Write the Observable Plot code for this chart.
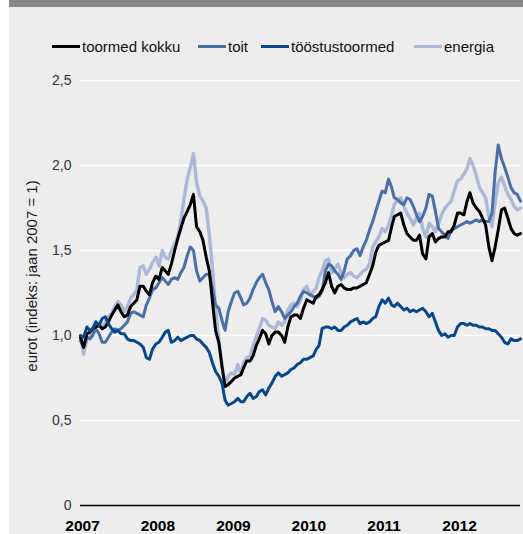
<!DOCTYPE html>
<html><head><meta charset="utf-8">
<script src="https://cdn.jsdelivr.net/npm/d3@7"></script>
<script src="https://cdn.jsdelivr.net/npm/@observablehq/plot@0.6"></script>
<style>
html,body{margin:0;padding:0;background:#fff;}
#wrap{position:relative;width:523px;height:534px;overflow:hidden;font-family:"Liberation Sans",Arial,sans-serif;}
#bg{position:absolute;left:9px;top:0;width:514px;height:534px;background:#ecedec;}
#bar{position:absolute;left:9px;top:0;width:514px;height:7px;background:#878889;}
.item{position:absolute;top:36px;display:flex;align-items:center;height:20px;font-size:15px;color:#111;white-space:nowrap;}
.sw{display:inline-block;width:28px;height:3px;margin-right:2px;}
#chart{position:absolute;left:0;top:60px;}
</style></head>
<body>
<div id="wrap"><div id="bg"></div><div id="bar"></div><div id="legend"></div><div id="chart"></div></div>
<script>
// Series names and colours (legend order)
const seriesNames = ["toormed kokku", "toit", "tööstustoormed", "energia"];
const seriesColors = ["#000000", "#4a6ea8", "#08478a", "#abb8d7"];
const yTicks = [0, 0.5, 1, 1.5, 2, 2.5];
const yearTicks = [2007, 2008, 2009, 2010, 2011, 2012];
const yTitle = "eurot (indeks: jaan 2007 = 1)";

// half-monthly observations, Jan 2007 .. Nov 2012
const kokku = [
0.99,0.93,1.01,1.02,1.04,1.05,1.06,1.04,1.05,1.08,
1.12,1.15,1.18,1.14,1.11,1.12,1.17,1.19,1.21,1.29,
1.29,1.26,1.24,1.31,1.35,1.33,1.40,1.38,1.36,1.42,
1.50,1.57,1.63,1.69,1.73,1.77,1.83,1.64,1.61,1.56,
1.46,1.38,1.20,1.03,0.96,0.82,0.70,0.71,0.73,0.75,
0.76,0.77,0.81,0.85,0.85,0.88,0.94,0.98,1.03,1.01,
0.95,1.00,1.02,1.02,1.00,0.96,1.05,1.11,1.12,1.12,
1.10,1.16,1.21,1.20,1.19,1.23,1.24,1.27,1.31,1.37,
1.29,1.25,1.29,1.30,1.28,1.27,1.27,1.28,1.28,1.29,
1.30,1.31,1.36,1.41,1.49,1.53,1.54,1.55,1.56,1.64,
1.70,1.71,1.72,1.65,1.60,1.58,1.56,1.56,1.59,1.48,
1.45,1.58,1.60,1.55,1.57,1.58,1.58,1.61,1.61,1.65,
1.72,1.72,1.71,1.79,1.84,1.78,1.75,1.73,1.69,1.65,
1.52,1.44,1.52,1.62,1.74,1.75,1.69,1.63,1.60,1.59,
1.60];
const toit = [
0.97,0.93,0.99,0.98,1.00,1.04,1.01,0.96,0.96,0.99,
1.02,1.04,1.03,1.04,1.06,1.08,1.13,1.14,1.13,1.12,
1.11,1.18,1.22,1.27,1.28,1.31,1.34,1.32,1.30,1.33,
1.34,1.33,1.37,1.40,1.47,1.52,1.50,1.38,1.32,1.34,
1.36,1.36,1.28,1.18,1.16,1.09,1.03,1.14,1.20,1.25,
1.26,1.22,1.18,1.19,1.22,1.27,1.31,1.34,1.36,1.31,
1.27,1.20,1.14,1.17,1.14,1.10,1.12,1.14,1.17,1.19,
1.23,1.26,1.25,1.24,1.23,1.22,1.23,1.26,1.38,1.42,
1.41,1.38,1.36,1.33,1.38,1.45,1.47,1.50,1.51,1.47,
1.52,1.56,1.62,1.67,1.73,1.79,1.85,1.84,1.92,1.87,
1.81,1.80,1.78,1.77,1.81,1.80,1.76,1.71,1.67,1.70,
1.75,1.83,1.82,1.73,1.63,1.61,1.59,1.57,1.62,1.63,
1.64,1.65,1.66,1.67,1.66,1.67,1.68,1.67,1.68,1.67,
1.67,1.72,1.96,2.12,2.04,1.99,1.93,1.87,1.84,1.83,
1.79];
const toostus = [
1.00,0.99,1.05,1.03,1.04,1.08,1.06,1.10,1.11,1.07,
1.04,1.02,1.03,1.01,1.01,0.98,0.97,0.97,0.96,0.95,
0.93,0.87,0.86,0.92,0.95,0.96,0.99,1.02,1.03,0.96,
0.97,0.99,0.97,0.98,0.99,1.00,1.00,0.98,0.97,0.95,
0.93,0.90,0.84,0.79,0.76,0.72,0.62,0.59,0.60,0.61,
0.63,0.61,0.61,0.64,0.66,0.63,0.64,0.67,0.68,0.65,
0.69,0.72,0.76,0.78,0.76,0.77,0.78,0.80,0.81,0.83,
0.84,0.86,0.86,0.87,0.88,0.92,0.94,1.04,1.05,1.05,
1.04,1.05,1.03,1.03,1.05,1.06,1.08,1.09,1.10,1.07,
1.08,1.07,1.08,1.10,1.11,1.17,1.21,1.19,1.22,1.18,
1.17,1.19,1.17,1.15,1.16,1.14,1.15,1.14,1.15,1.16,
1.14,1.11,1.13,1.08,1.03,1.00,1.01,0.99,1.00,1.00,
1.05,1.07,1.07,1.06,1.07,1.06,1.06,1.05,1.05,1.04,
1.04,1.03,1.03,1.01,0.99,0.96,0.95,0.98,0.97,0.97,
0.98];
const energia = [
1.00,0.89,0.98,0.99,1.03,1.06,1.07,1.04,1.08,1.11,
1.13,1.17,1.20,1.18,1.14,1.17,1.22,1.24,1.27,1.40,
1.41,1.36,1.39,1.43,1.46,1.41,1.50,1.46,1.45,1.50,
1.54,1.58,1.68,1.80,1.92,1.99,2.07,1.90,1.82,1.79,
1.75,1.59,1.40,1.16,0.97,0.83,0.70,0.76,0.78,0.77,
0.83,0.77,0.84,0.87,0.88,0.94,0.99,1.04,1.10,1.09,
1.06,1.05,1.04,1.08,1.06,1.08,1.15,1.18,1.19,1.17,
1.21,1.27,1.29,1.24,1.26,1.28,1.34,1.38,1.44,1.45,
1.37,1.39,1.42,1.37,1.34,1.36,1.37,1.35,1.34,1.36,
1.38,1.39,1.42,1.52,1.55,1.58,1.63,1.61,1.65,1.71,
1.77,1.80,1.81,1.76,1.72,1.69,1.65,1.69,1.72,1.63,
1.58,1.66,1.64,1.61,1.66,1.71,1.75,1.77,1.79,1.85,
1.91,1.92,1.95,1.98,2.04,2.00,1.94,1.87,1.84,1.81,
1.70,1.64,1.78,1.90,1.93,1.88,1.83,1.80,1.76,1.74,
1.75];

const dates = kokku.map((_, i) => new Date(2007, Math.floor(i / 2), i % 2 ? 16 : 1));
const rows = (vals) => vals.map((v, i) => ({date: dates[i], value: v}));

// legend
const legendLeft = [52, 198, 261, 414];
const legend = document.getElementById("legend");
seriesNames.forEach((n, i) => {
  const it = document.createElement("div");
  it.className = "item";
  it.style.left = legendLeft[i] + "px";
  const sw = document.createElement("span");
  sw.className = "sw";
  sw.style.background = seriesColors[i];
  it.appendChild(sw);
  it.appendChild(document.createTextNode(n));
  legend.appendChild(it);
});

const fmt = d => d === 0 ? "0" : d3.format(".1f")(d).replace(".", ",");
const yearDates = yearTicks.map(y => new Date(y, 0, 1));

const chart = Plot.plot({
  width: 523, height: 474,
  marginLeft: 80, marginRight: 3, marginTop: 20, marginBottom: 29,
  style: {background: "transparent", fontFamily: "'Liberation Sans', Arial, sans-serif", overflow: "visible"},
  x: {type: "time", domain: [new Date(2007, 0, 1), new Date(2012, 10, 1)]},
  y: {domain: [0, 2.5]},
  marks: [
    Plot.gridY(yTicks.filter(d => d > 0), {stroke: "#ffffff", strokeOpacity: 1, strokeWidth: 1.6}),
    Plot.axisY(yTicks, {tickFormat: fmt, tickSize: 0, tickPadding: 9, fontSize: 14, fill: "#333", label: null}),
    Plot.axisX(yearDates, {tickFormat: d3.timeFormat("%Y"), tickSize: 0, tickPadding: 14, fontSize: 15.5, fontWeight: "bold", fill: "#000", dx: 2, label: null}),
    Plot.text([yTitle], {frameAnchor: "left", y: [1.35], rotate: -90, dx: -48, textAnchor: "middle", fontSize: 15, fill: "#222", text: d => d}),
    Plot.ruleY([0], {stroke: "#000", strokeWidth: 1.5}),
    Plot.line(rows(energia), {x: "date", y: "value", stroke: seriesColors[3], strokeWidth: 3.4}),
    Plot.line(rows(toit), {x: "date", y: "value", stroke: seriesColors[1], strokeWidth: 3}),
    Plot.line(rows(kokku), {x: "date", y: "value", stroke: seriesColors[0], strokeWidth: 3}),
    Plot.line(rows(toostus), {x: "date", y: "value", stroke: seriesColors[2], strokeWidth: 3})
  ]
});
document.getElementById("chart").appendChild(chart);
</script>
</body></html>
